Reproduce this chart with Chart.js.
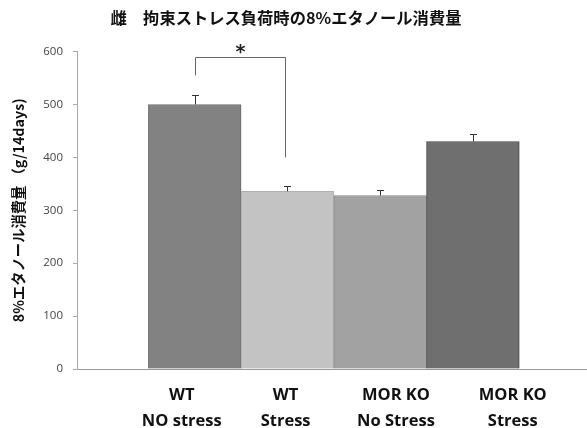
<!DOCTYPE html>
<html>
<head>
<meta charset="utf-8">
<script src="https://cdn.jsdelivr.net/npm/chart.js@4"></script>
<style>
  html, body { margin: 0; padding: 0; background: #fff; }
  #wrap { width: 587px; height: 428px; }
</style>
</head>
<body>
<div id="wrap"><canvas id="chart"></canvas></div>
<script>
// groups shown on the x axis (two lines each)
const groups = [
  ['WT', 'NO stress'],
  ['WT', 'Stress'],
  ['MOR KO', 'No Stress'],
  ['MOR KO', 'Stress']
];
const positions = [0, 1, 2, 3];
const means = [500, 336, 328, 430];
const sems = [18, 9, 10, 15];
const barColors = ['#828282', '#c3c3c3', '#a2a2a2', '#6f6f6f'];
const yTicks = [0, 100, 200, 300, 400, 500, 600];

// significance bracket between WT groups (values on the y scale)
const bracket = { from: 0, to: 1, top: 590, leftEnd: 555, rightEnd: 400, label: '*' };

// the labels in the original sit a bit off the bar centres
const labelShift = [-0.14, -0.02, 0.17, 0.43];

const cjk = '"Noto Sans CJK JP", "Noto Sans", sans-serif';

// shift the title a little left, as in the original
const titleShift = {
  id: 'titleShift',
  afterLayout(chart) {
    if (chart.titleBlock) {
      chart.titleBlock.left -= 7;
      chart.titleBlock.right -= 7;
    }
  }
};

const errorBars = {
  id: 'errorBars',
  afterDatasetsDraw(chart) {
    const { ctx, scales: { x, y } } = chart;
    ctx.save();
    ctx.strokeStyle = '#333';
    ctx.lineWidth = 1;
    means.forEach((m, i) => {
      const px = Math.round(x.getPixelForValue(positions[i])) + 0.5;
      const top = Math.round(y.getPixelForValue(m + sems[i])) + 0.5;
      const base = y.getPixelForValue(m);
      ctx.beginPath();
      ctx.moveTo(px, base);
      ctx.lineTo(px, top);
      ctx.moveTo(px - 3.5, top);
      ctx.lineTo(px + 3.5, top);
      ctx.stroke();
    });
    // bracket
    const xl = Math.round(x.getPixelForValue(bracket.from)) + 0.5;
    const xr = Math.round(x.getPixelForValue(bracket.to)) - 1.5;
    const yt = Math.round(y.getPixelForValue(bracket.top)) + 0.5;
    ctx.strokeStyle = '#666';
    ctx.beginPath();
    ctx.moveTo(xl, y.getPixelForValue(bracket.leftEnd));
    ctx.lineTo(xl, yt);
    ctx.lineTo(xr, yt);
    ctx.lineTo(xr, y.getPixelForValue(bracket.rightEnd));
    ctx.stroke();
    ctx.fillStyle = '#222';
    ctx.font = 'bold 19px "DejaVu Sans", sans-serif';
    ctx.textAlign = 'center';
    ctx.textBaseline = 'middle';
    ctx.fillText(bracket.label, (xl + xr) / 2, yt - 4);
    ctx.restore();
  }
};

new Chart(document.getElementById('chart'), {
  type: 'bar',
  data: {
    datasets: [{
      data: positions.map((p, i) => ({ x: p, y: means[i] })),
      backgroundColor: barColors,
      borderColor: ['#6a6a6a', '#b0b0b0', '#8e8e8e', '#444'],
      borderWidth: 1,
      barPercentage: 1,
      categoryPercentage: 1
    }]
  },
  options: {
    responsive: true,
    maintainAspectRatio: false,
    animation: false,
    layout: { padding: { right: 1 } },
    plugins: {
      legend: { display: false },
      tooltip: { enabled: false },
      title: {
        display: true,
        text: '雌　拘束ストレス負荷時の8%エタノール消費量',
        color: '#111',
        font: { family: cjk, size: 16.3, weight: 'bold', lineHeight: 1.2 },
        padding: { top: 8, bottom: 24 }
      }
    },
    scales: {
      x: {
        type: 'linear',
        offset: false,
        min: -1.27,
        max: 4.22,
        afterBuildTicks: s => { s.ticks = positions.map((v, i) => ({ value: v + labelShift[i] })); },
        afterFit: s => { s.height = 59; },
        grid: { display: false },
        border: { display: true, color: '#999', dash: [1, 1], width: 1 },
        ticks: {
          autoSkip: false,
          maxRotation: 0,
          padding: 5,
          color: '#111',
          font: { family: '"Open Sans", sans-serif', size: 16.5, weight: 'bold', lineHeight: 1.58 },
          callback: (v, i) => groups[i]
        }
      },
      y: {
        min: 0,
        max: 600,
        afterBuildTicks: s => { s.ticks = yTicks.map(v => ({ value: v })); },
        afterFit: s => { s.width = 77; },
        grid: { drawOnChartArea: false, drawTicks: true, tickLength: 4, color: '#aaa' },
        border: { display: true, color: '#aaa', dash: [1, 1], width: 1 },
        ticks: {
          padding: 10,
          color: '#444',
          font: { family: '"Open Sans", sans-serif', size: 11.5 }
        },
        title: {
          display: true,
          text: '8%エタノール消費量 （g/14days)',
          color: '#111',
          font: { family: cjk, size: 14.3, weight: 'bold' },
          padding: { top: 10, bottom: 6 }
        }
      }
    }
  },
  plugins: [errorBars, titleShift]
});
</script>
</body>
</html>
